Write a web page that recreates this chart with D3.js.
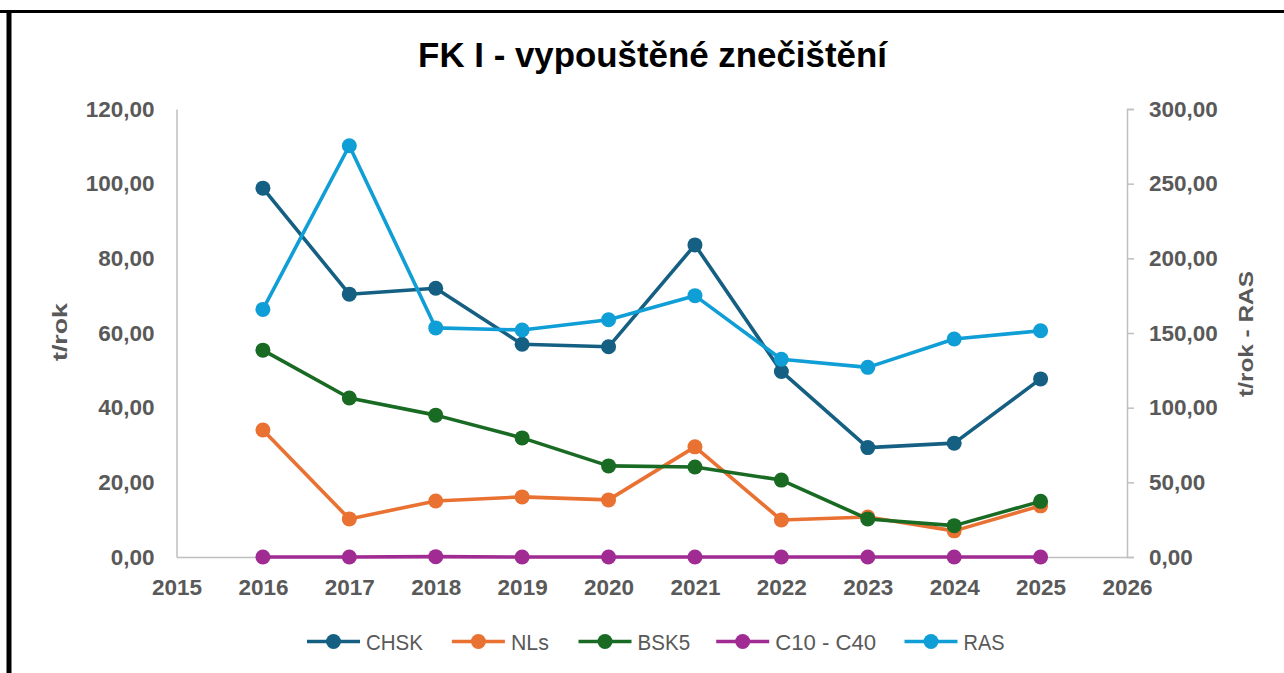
<!DOCTYPE html>
<html><head><meta charset="utf-8">
<script src="https://cdn.jsdelivr.net/npm/d3@7"></script>
<style>html,body{margin:0;padding:0;background:#fff;}svg{display:block;}</style>
</head><body>
<script>
const years = [2016,2017,2018,2019,2020,2021,2022,2023,2024,2025];
const chsk = [98.8,70.4,72.0,57.0,56.3,83.6,49.7,29.3,30.5,47.7];
const nls  = [34.0,10.2,15.0,16.1,15.3,29.5,9.9,10.7,7.0,13.7];
const bsk5 = [55.4,42.6,38.0,31.9,24.4,24.1,20.6,10.2,8.4,14.9];
const c10  = [0,0,0.1,0,0,0,0,0,0,0];
const ras  = [165.8,275.4,153.4,152.0,158.9,175.0,132.4,127.0,146.0,151.5];
const xTicks = [2015,2016,2017,2018,2019,2020,2021,2022,2023,2024,2025,2026];
const leftTicks = [0,20,40,60,80,100,120];
const rightTicks = [0,50,100,150,200,250,300];
const seriesNames = ["CHSK","NLs","BSK5","C10 - C40","RAS"];
const seriesColors = ["#156082","#E97132","#196B24","#A02B93","#0F9ED5"];

const W=1284,H=673;
const svg=d3.select("body").append("svg").attr("width",W).attr("height",H);
svg.append("rect").attr("width",W).attr("height",H).attr("fill","#fff");
// frame
svg.append("line").attr("x1",0).attr("x2",W).attr("y1",11.5).attr("y2",11.5).attr("stroke","#000").attr("stroke-width",3);
svg.append("line").attr("x1",9).attr("x2",9).attr("y1",10).attr("y2",H).attr("stroke","#000").attr("stroke-width",5);

const font="'Liberation Sans', Arial, sans-serif";
const x=d3.scaleLinear().domain([2015,2026]).range([176.5,1127]);
const yL=d3.scaleLinear().domain([0,120]).range([557,109]);
const yR=d3.scaleLinear().domain([0,300]).range([557,109]);
const grey="#595959", axisCol="#BFBFBF";

function fitText(sel, target){
  const n=sel.node(); const w=n.getComputedTextLength();
  const fs=parseFloat(sel.attr("font-size"));
  sel.attr("font-size", fs*target/w);
}
function stretch(sel, target){
  const w=sel.node().getComputedTextLength();
  return target/w;
}

const title=svg.append("text").attr("x",652.5).attr("y",67).attr("text-anchor","middle")
  .attr("font-family",font).attr("font-weight","bold").attr("font-size",28).attr("fill","#000")
  .text("FK I - vypouštěné znečištění");
fitText(title,469);

const fmt=v=>d3.format(".2f")(v).replace(".",",");
const tfs=22.5;

// left axis
const gL=svg.append("g").attr("transform",`translate(${x(2015)},0)`)
  .call(d3.axisLeft(yL).tickValues(leftTicks).tickSize(0).tickPadding(22).tickFormat(fmt));
gL.select(".domain").attr("stroke",axisCol).attr("stroke-width",1.5);
gL.selectAll("text").attr("font-family",font).attr("font-weight","bold").attr("font-size",tfs).attr("fill",grey);

// right axis
const gR=svg.append("g").attr("transform",`translate(${x(2026)},0)`)
  .call(d3.axisRight(yR).tickValues(rightTicks).tickSize(7).tickSizeOuter(7).tickPadding(15).tickFormat(fmt));
gR.select(".domain").attr("stroke",axisCol).attr("stroke-width",1.5);
gR.selectAll(".tick line").attr("stroke",axisCol).attr("stroke-width",1.5);
gR.selectAll("text").attr("font-family",font).attr("font-weight","bold").attr("font-size",tfs).attr("fill",grey);

// bottom axis
const gB=svg.append("g").attr("transform",`translate(0,${yL(0)})`)
  .call(d3.axisBottom(x).tickValues(xTicks).tickSize(0).tickPadding(22).tickFormat(d3.format("d")));
gB.select(".domain").attr("stroke",axisCol).attr("stroke-width",1.5);
gB.selectAll("text").attr("font-family",font).attr("font-weight","bold").attr("font-size",tfs).attr("fill",grey);

// axis titles
function axisTitle(cx, cy, txt, len){
  const g=svg.append("g");
  const t=g.append("text").attr("text-anchor","middle").attr("font-family",font)
    .attr("font-weight","bold").attr("font-size",21).attr("fill",grey).text(txt);
  const s=stretch(t,len);
  g.attr("transform",`translate(${cx},${cy}) rotate(-90) scale(${s},1)`);
}
axisTitle(67,332,"t/rok",58);
axisTitle(1253,334,"t/rok - RAS",126);

const data=[chsk,nls,bsk5,c10,ras];
const scales=[yL,yL,yL,yL,yR];
data.forEach((vals,i)=>{
  const ys=scales[i];
  const pts=years.map((yr,j)=>[x(yr),ys(vals[j])]);
  svg.append("path").attr("d",d3.line()(pts)).attr("fill","none")
    .attr("stroke",seriesColors[i]).attr("stroke-width",3.6).attr("stroke-linejoin","round");
  svg.selectAll(null).data(pts).enter().append("circle")
    .attr("cx",d=>d[0]).attr("cy",d=>d[1]).attr("r",7.5).attr("fill",seriesColors[i]);
});

// legend
const legX=[333.5,478.4,605,742.7,931];
const legW=[57,38,52.6,101,41];
seriesNames.forEach((n,i)=>{
  const g=svg.append("g").attr("transform",`translate(${legX[i]},641.5)`);
  g.append("line").attr("x1",-26.5).attr("x2",26.5).attr("stroke",seriesColors[i]).attr("stroke-width",3.6);
  g.append("circle").attr("r",7.5).attr("fill",seriesColors[i]);
  const tg=g.append("g");
  const t=tg.append("text").attr("x",0).attr("y",8).attr("font-family",font).attr("font-size",22.5)
    .attr("fill",grey).text(n);
  const s=stretch(t,legW[i]);
  tg.attr("transform",`translate(32.5,0) scale(${s},1)`);
});
</script>
</body></html>
